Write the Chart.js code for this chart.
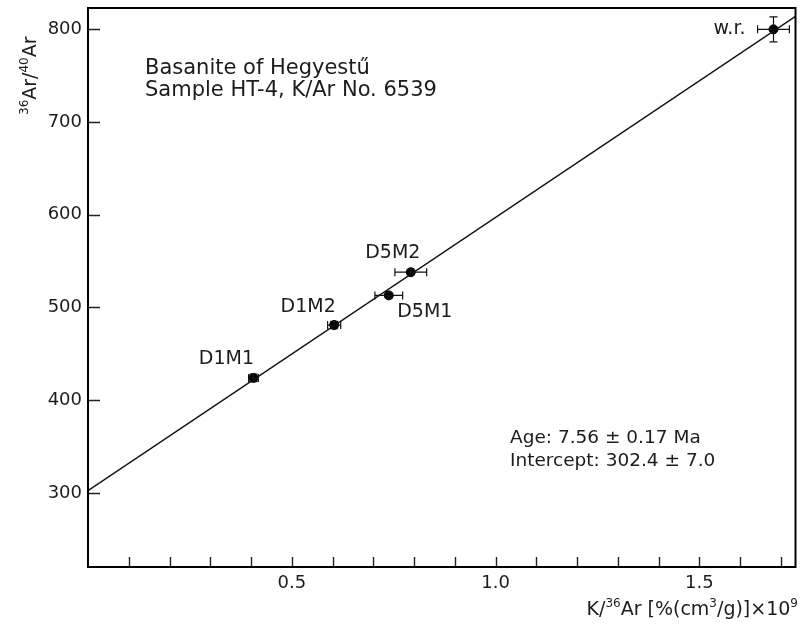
<!DOCTYPE html>
<html><head><meta charset="utf-8">
<script src="https://cdn.jsdelivr.net/npm/chart.js@4.4.1/dist/chart.umd.min.js"></script>
<style>html,body{margin:0;padding:0;background:#fff}#wrap{width:801px;height:628px}</style>
</head><body><div id="wrap"><canvas id="c" width="801" height="628"></canvas></div>
<script>
// ---- data ----
const sampleLabels = ['D1M1', 'D1M2', 'D5M1', 'D5M2', 'w.r.'];
const kAr = [0.406, 0.604, 0.738, 0.792, 1.682];          // K/36Ar x 10^9
const arRatio = [424, 481, 513, 538, 800];                 // 40Ar/36Ar
const kArErr = [0.012, 0.016, 0.034, 0.039, 0.039];
const arRatioErr = [4, 4, 3, 3, 13.5];
const fitX = [0, 1.736];
const fitY = [302.4, 814];
const xTicks = [0.1, 0.2, 0.3, 0.4, 0.5, 0.6, 0.7, 0.8, 0.9, 1.0, 1.1, 1.2, 1.3, 1.4, 1.5, 1.6, 1.7];
const xTickLabels = ['0.5', '1.0', '1.5'];
const yTicks = [300, 400, 500, 600, 700, 800];
const titleLines = ['Basanite of Hegyestű', 'Sample HT-4, K/Ar No. 6539'];
const resultLines = ['Age: 7.56 ± 0.17 Ma', 'Intercept: 302.4 ± 7.0'];
const yTitleRuns = [['36', true], ['Ar/', false], ['40', true], ['Ar', false]];
const xTitleRuns = [['K/', false], ['36', true], ['Ar [%(cm', false], ['3', true], ['/g)]×10', false], ['9', true]];

// ---- style ----
const FONT = "'DejaVu Sans', 'Liberation Sans', sans-serif";
const INK = '#1c1c1c';
const labelPlacement = [
  {dx: -27, dy: -19, align: 'center'},
  {dx: -26, dy: -18, align: 'center'},
  {dx: 36, dy: 17, align: 'center'},
  {dx: -18, dy: -19, align: 'center'},
  {dx: -28, dy: 0, align: 'right'}
];

function drawRuns(ctx, runs, x, y, size, supSize, align) {
  const measure = r => { ctx.font = (r[1] ? supSize : size) + 'px ' + FONT; return ctx.measureText(r[0]).width; };
  let total = 0; runs.forEach(r => total += measure(r));
  let cx = align === 'right' ? x - total : x;
  ctx.textAlign = 'left'; ctx.textBaseline = 'alphabetic';
  runs.forEach(r => {
    ctx.font = (r[1] ? supSize : size) + 'px ' + FONT;
    ctx.fillText(r[0], cx, y + (r[1] ? -Math.round(size * 0.42) : 0));
    cx += ctx.measureText(r[0]).width;
  });
}

const decorPlugin = {
  id: 'decor',
  afterDatasetsDraw(chart) {
    const ctx = chart.ctx, xs = chart.scales.x, ys = chart.scales.y;
    ctx.save();
    ctx.strokeStyle = '#111'; ctx.lineWidth = 1.2;
    for (let i = 0; i < kAr.length; i++) {
      const px = xs.getPixelForValue(kAr[i]), py = ys.getPixelForValue(arRatio[i]);
      const x0 = xs.getPixelForValue(kAr[i] - kArErr[i]), x1 = xs.getPixelForValue(kAr[i] + kArErr[i]);
      const y0 = ys.getPixelForValue(arRatio[i] - arRatioErr[i]), y1 = ys.getPixelForValue(arRatio[i] + arRatioErr[i]);
      ctx.beginPath();
      ctx.moveTo(x0, py); ctx.lineTo(x1, py);
      ctx.moveTo(x0, py - 4); ctx.lineTo(x0, py + 4);
      ctx.moveTo(x1, py - 4); ctx.lineTo(x1, py + 4);
      ctx.moveTo(px, y0); ctx.lineTo(px, y1);
      ctx.moveTo(px - 4, y0); ctx.lineTo(px + 4, y0);
      ctx.moveTo(px - 4, y1); ctx.lineTo(px + 4, y1);
      ctx.stroke();
      const lp = labelPlacement[i];
      ctx.fillStyle = INK; ctx.font = '19px ' + FONT;
      ctx.textAlign = lp.align; ctx.textBaseline = 'middle';
      ctx.fillText(sampleLabels[i], px + lp.dx, py + lp.dy);
    }
    ctx.restore();
  },
  afterDraw(chart) {
    const ctx = chart.ctx, a = chart.chartArea, xs = chart.scales.x, ys = chart.scales.y;
    ctx.save();
    ctx.strokeStyle = '#222'; ctx.lineWidth = 1.4;
    ctx.beginPath();
    xs.ticks.forEach(t => {
      const p = Math.round(xs.getPixelForValue(t.value)) + 0.5;
      ctx.moveTo(p, a.bottom); ctx.lineTo(p, a.bottom - 10);
    });
    ys.ticks.forEach(t => {
      const p = Math.round(ys.getPixelForValue(t.value)) + 0.5;
      ctx.moveTo(a.left, p); ctx.lineTo(a.left + 12, p);
    });
    ctx.stroke();
    ctx.strokeStyle = '#000'; ctx.lineWidth = 2;
    ctx.strokeRect(a.left, a.top, a.right - a.left, a.bottom - a.top);
    ctx.fillStyle = INK; ctx.textAlign = 'left'; ctx.textBaseline = 'alphabetic';
    ctx.font = '21px ' + FONT;
    ctx.fillText(titleLines[0], 145, 74);
    ctx.fillText(titleLines[1], 145, 96);
    ctx.font = '18.5px ' + FONT;
    ctx.fillText(resultLines[0], 510, 443);
    ctx.fillText(resultLines[1], 510, 466);
    drawRuns(ctx, xTitleRuns, 798, 615, 19, 12, 'right');
    ctx.translate(36, 115); ctx.rotate(-Math.PI / 2);
    drawRuns(ctx, yTitleRuns, 0, 0, 19, 12, 'left');
    ctx.restore();
  }
};

new Chart(document.getElementById('c'), {
  type: 'scatter',
  data: {
    datasets: [
      {
        type: 'line',
        data: fitX.map((x, i) => ({x, y: fitY[i]})),
        borderColor: '#111', borderWidth: 1.3, pointRadius: 0, fill: false, tension: 0
      },
      {
        data: kAr.map((x, i) => ({x, y: arRatio[i]})),
        backgroundColor: '#000', borderColor: '#000', pointRadius: 4.5, pointHoverRadius: 4.5
      }
    ]
  },
  options: {
    responsive: false, animation: false, devicePixelRatio: 1,
    layout: {padding: {left: 0, top: 8, right: 4, bottom: 0}},
    plugins: {legend: {display: false}, tooltip: {enabled: false}},
    scales: {
      x: {
        type: 'linear', min: 0, max: 1.736,
        afterBuildTicks(s) { s.ticks = xTicks.map(v => ({value: v})); },
        afterFit(s) { s.height = 61; s.paddingLeft = 0; s.paddingRight = 0; },
        grid: {display: false, drawTicks: false}, border: {display: false},
        ticks: {
          autoSkip: false, maxRotation: 0, minRotation: 0, padding: 6,
          color: INK, font: {family: FONT, size: 18},
          callback: v => { const s = Number(v).toFixed(1); return xTickLabels.includes(s) ? s : ''; }
        }
      },
      y: {
        type: 'linear', min: 220, max: 823,
        afterBuildTicks(s) { s.ticks = yTicks.map(v => ({value: v})); },
        afterFit(s) { s.width = 88; s.paddingTop = 0; s.paddingBottom = 0; },
        grid: {display: false, drawTicks: false}, border: {display: false},
        ticks: {
          autoSkip: false, padding: 6,
          color: INK, font: {family: FONT, size: 18},
          callback: v => String(v)
        }
      }
    }
  },
  plugins: [decorPlugin]
});
</script></body></html>
